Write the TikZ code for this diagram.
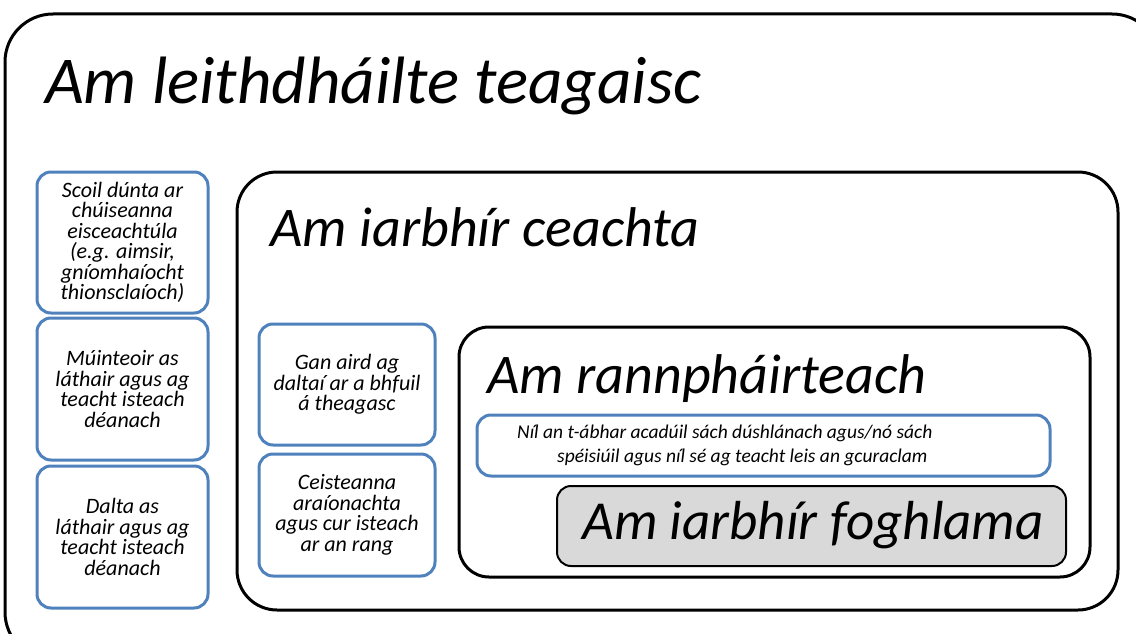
\documentclass[tikz,border=0pt]{standalone}
\usepackage{fontspec}
\setmainfont{Carlito}
\definecolor{bluebox}{RGB}{79,129,189}
\definecolor{greyfill}{RGB}{217,217,217}
\tikzset{
  frame/.style={draw=black, line width=3pt, rounded corners=#1},
  bluebox/.style={draw=bluebox, line width=3pt, rounded corners=14pt, fill=white},
  small/.style={font=\fontsize{22}{20.5}\selectfont\itshape, align=center},
  wide/.style={font=\fontsize{19.5}{24}\selectfont\itshape, align=left, anchor=west},
  big/.style={font=\fontsize{67}{67}\selectfont\itshape, anchor=base west, inner sep=0pt},
  mid/.style={font=\fontsize{56}{56}\selectfont\itshape, anchor=base west, inner sep=0pt},
}
\begin{document}
\begin{tikzpicture}[x=1pt,y=-1pt]
\useasboundingbox (0,0) rectangle (1136,634);
\begin{scope}
\clip (0,0) rectangle (1136,634);
\draw[frame=48pt] (5,14) rectangle (1160,660);
\end{scope}
\node[big] (t1) at (45,103) {Am leithdháilte teagaisc};
% left column
\draw[bluebox] (37,172) rectangle (208,313);
\node[small] (l1) at (122.5,242.5) {Scoil dúnta ar\\chúiseanna\\eisceachtúla\\(e.g. aimsir,\\gníomhaíocht\\thionsclaíoch)};
\draw[bluebox] (37,318) rectangle (208,460);
\node[small] (l2) at (122.5,389) {Múinteoir as\\láthair agus ag\\teacht isteach\\déanach};
\draw[bluebox] (37,466) rectangle (208,608);
\node[small] (l3) at (122.5,537) {Dalta as\\láthair agus ag\\teacht isteach\\déanach};
% lesson box
\draw[frame=40pt] (237,172) rectangle (1118,610);
\node[mid] (t2) at (270,246) {Am iarbhír ceachta};
\draw[bluebox] (259,324) rectangle (435,445);
\node[small] (m1) at (347,384.5) {Gan aird ag\\daltaí ar a bhfuil\\á theagasc};
\draw[bluebox] (259,454) rectangle (435,576);
\node[small] (m2) at (347,515) {Ceisteanna\\araíonachta\\agus cur isteach\\ar an rang};
% engaged box
\draw[frame=30pt] (459,327) rectangle (1090,577);
\node[mid] (t3) at (487,393) {Am rannpháirteach};
\draw[bluebox] (477,415) rectangle (1050,476);
\node[wide, inner sep=0pt] (w1) at (517,445.5) {Níl an t-ábhar acadúil sách dúshlánach agus/nó sách\\\hspace*{40pt}spéisiúil agus níl sé ag teacht leis an gcuraclam};
\draw[draw=black, line width=2pt, rounded corners=14pt, fill=greyfill] (557,486) rectangle (1066,566);
\node[mid, font=\fontsize{55}{55}\selectfont\itshape] (t4) at (582,539) {Am iarbhír foghlama};
\end{tikzpicture}
\end{document}
